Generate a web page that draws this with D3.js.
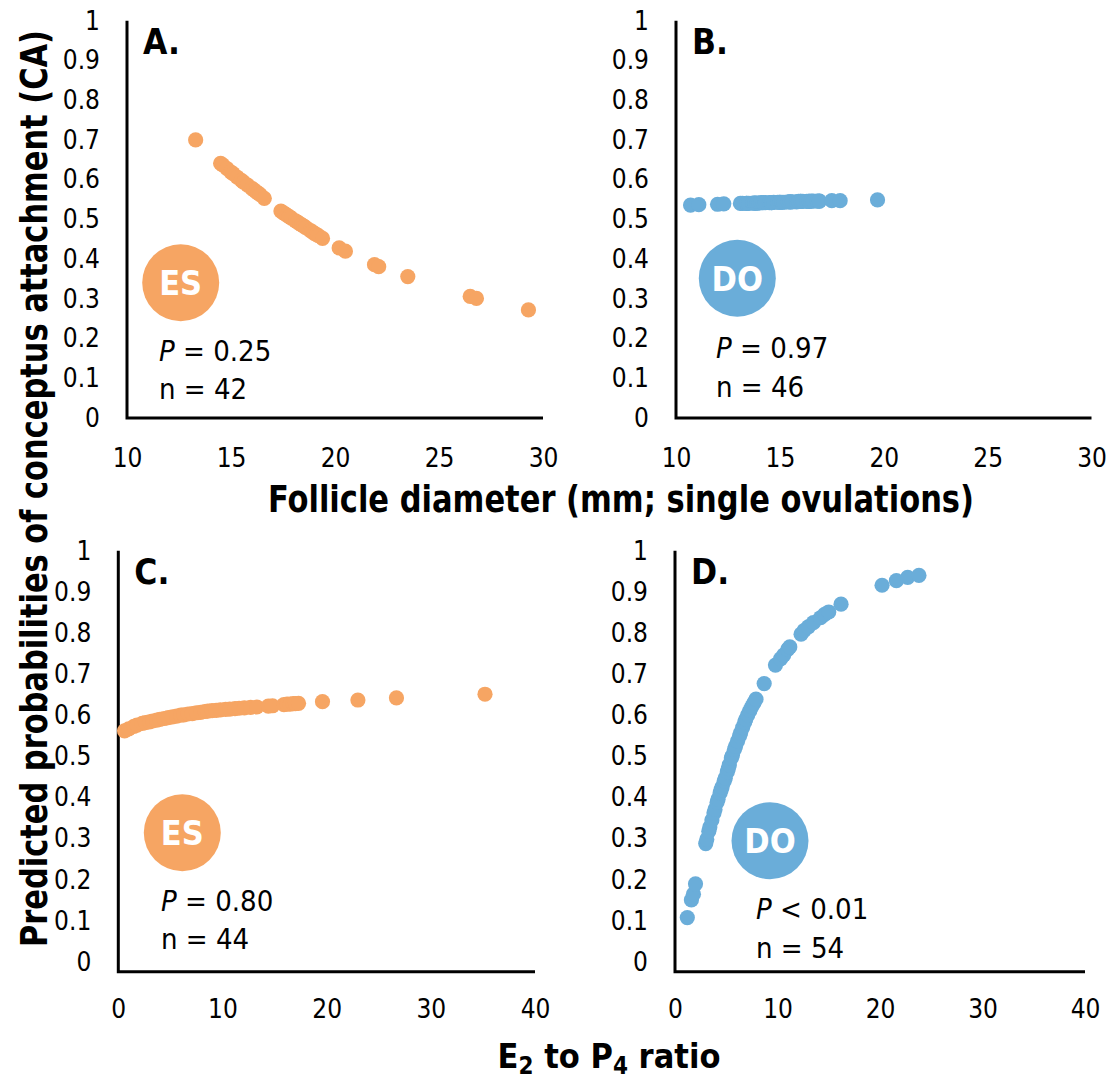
<!DOCTYPE html>
<html>
<head>
<meta charset="utf-8">
<script src="https://cdn.jsdelivr.net/npm/d3@7"></script>
<style>
  body { margin: 0; background: #fff; }
  svg { display: block; font-family: "DejaVu Sans Condensed", "DejaVu Sans", sans-serif; }
</style>
</head>
<body>
<svg id="chart"></svg>
<script>
// Values
// A. ES, follicle diameter
var esFollicleX = [13.3, 14.5, 14.6, 14.8, 15.0, 15.1, 15.3, 15.5, 15.6, 15.8, 16.0, 16.1, 16.2, 16.3, 16.4, 16.6,
  17.4, 17.5, 17.6, 17.7, 17.8, 17.9, 18.1, 18.2, 18.3, 18.4, 18.5, 18.6, 18.8, 18.9, 19.0, 19.1, 19.2, 19.4,
  20.2, 20.5, 21.9, 22.1, 23.5, 26.5, 26.8, 29.3];
var esFollicleY = [0.700, 0.641, 0.637, 0.628, 0.619, 0.615, 0.606, 0.598, 0.594, 0.586, 0.578, 0.574, 0.570, 0.566, 0.562, 0.553,
  0.521, 0.517, 0.514, 0.510, 0.507, 0.503, 0.496, 0.493, 0.489, 0.486, 0.483, 0.479, 0.472, 0.469, 0.465, 0.462, 0.459, 0.452,
  0.428, 0.420, 0.386, 0.381, 0.356, 0.306, 0.301, 0.272];

// B. DO, follicle diameter
var doFollicleX = [10.7, 11.1, 12.0, 12.3,
  13.1, 13.2, 13.4, 13.4, 13.5, 13.7, 13.8, 13.8, 13.9, 14.0, 14.1, 14.2, 14.3, 14.5, 14.6, 14.6, 14.7, 14.9, 15.0, 15.0,
  15.1, 15.2, 15.4, 15.5, 15.5, 15.6, 15.8, 15.9, 16.0, 16.0, 16.1, 16.3, 16.4, 16.4, 16.5, 16.6, 16.8, 16.9, 16.9,
  17.5, 17.9, 19.7];
var doFollicleY = [0.536, 0.537, 0.538, 0.539,
  0.540, 0.540, 0.540, 0.540, 0.540, 0.541, 0.541, 0.541, 0.541, 0.541, 0.542, 0.542, 0.542, 0.542, 0.542, 0.542, 0.543, 0.543, 0.543, 0.543,
  0.543, 0.543, 0.544, 0.544, 0.544, 0.544, 0.544, 0.545, 0.545, 0.545, 0.545, 0.545, 0.545, 0.545, 0.546, 0.546, 0.546, 0.546, 0.546,
  0.547, 0.547, 0.549];

// C. ES, E2:P4 ratio
var esRatioX = [0.6, 1.0, 1.5, 1.8, 2.3, 2.6, 3.0, 3.3, 3.7, 4.0, 4.4, 4.8, 5.2, 5.6, 6.0, 6.3, 6.7, 7.1, 7.5, 7.9,
  8.3, 8.6, 9.0, 9.4, 9.8, 10.3, 10.7, 11.2, 11.6, 12.1, 12.7, 13.3,
  14.4, 14.8, 15.9, 16.2, 16.5, 16.8, 17.0, 17.3,
  19.6, 23.0, 26.7, 35.2];
var esRatioY = [0.562, 0.567, 0.573, 0.576, 0.580, 0.582, 0.584, 0.586, 0.588, 0.590, 0.592, 0.594, 0.596, 0.598, 0.600, 0.601, 0.603, 0.604, 0.606, 0.607,
  0.609, 0.610, 0.611, 0.612, 0.613, 0.614, 0.615, 0.616, 0.617, 0.618, 0.619, 0.620,
  0.622, 0.623, 0.626, 0.627, 0.627, 0.628, 0.628, 0.629,
  0.633, 0.637, 0.642, 0.651];

// D. DO, E2:P4 ratio
var doRatioX = [1.2, 1.6, 1.8, 2.0,
  3.0, 3.1, 3.3, 3.4, 3.6, 3.8, 3.9, 4.1, 4.2, 4.4, 4.5, 4.6, 4.8, 4.9, 5.1, 5.2, 5.3, 5.5, 5.6, 5.8, 5.9,
  6.1, 6.3, 6.4, 6.6, 6.8, 6.9, 7.1, 7.3, 7.5, 7.7, 7.9,
  8.7, 9.8, 10.3, 10.6, 11.0, 11.2, 12.3, 12.6, 13.0, 13.5, 14.2, 14.6, 15.0, 16.2, 20.2, 21.6, 22.7, 23.8];
var doRatioY = [0.108, 0.151, 0.165, 0.190,
  0.288, 0.298, 0.318, 0.328, 0.345, 0.362, 0.371, 0.388, 0.396, 0.411, 0.419, 0.426, 0.440, 0.447, 0.462, 0.470, 0.479, 0.496, 0.502, 0.517, 0.524,
  0.537, 0.550, 0.557, 0.570, 0.583, 0.590, 0.601, 0.611, 0.621, 0.630, 0.639,
  0.677, 0.722, 0.737, 0.746, 0.760, 0.766, 0.797, 0.806, 0.815, 0.825, 0.837, 0.845, 0.851, 0.870, 0.916, 0.927, 0.935, 0.940];

// Tick labels
var yTicks = [0, 0.1, 0.2, 0.3, 0.4, 0.5, 0.6, 0.7, 0.8, 0.9, 1];
var follicleTicks = [10, 15, 20, 25, 30];
var ratioTicks = [0, 10, 20, 30, 40];

var orange = "#F6A563";
var blue = "#6AADD9";

var w = 1113;
var h = 1081;

var svg = d3.select("#chart")
  .attr("width", w)
  .attr("height", h);

svg.append("rect").attr("width", w).attr("height", h).attr("fill", "#fff");

// one entry per panel: where it sits and what goes in it
var panels = [
  { tag: "A.", xs: esFollicleX, ys: esFollicleY, xDomain: [10, 30], xTicks: follicleTicks, color: orange,
    left: 127, right: 543, top: 20.7, zero: 418, axisY: 418, pad: 31,
    badge: "ES", bx: 180.7, by: 282.7, p: "= 0.25", n: "n = 42", tx: 159, py: 361, ny: 399 },
  { tag: "B.", xs: doFollicleX, ys: doFollicleY, xDomain: [10, 30], xTicks: follicleTicks, color: blue,
    left: 676, right: 1091.5, top: 20.7, zero: 418, axisY: 418, pad: 31,
    badge: "DO", bx: 737.3, by: 278.3, p: "= 0.97", n: "n = 46", tx: 716, py: 358, ny: 397 },
  { tag: "C.", xs: esRatioX, ys: esRatioY, xDomain: [0, 40], xTicks: ratioTicks, color: orange,
    left: 118.3, right: 535, top: 550.7, zero: 962, axisY: 971.7, pad: 28,
    badge: "ES", bx: 182.3, by: 832.7, p: "= 0.80", n: "n = 44", tx: 161, py: 911, ny: 949 },
  { tag: "D.", xs: doRatioX, ys: doRatioY, xDomain: [0, 40], xTicks: ratioTicks, color: blue,
    left: 675, right: 1085, top: 550.7, zero: 962, axisY: 971.7, pad: 28,
    badge: "DO", bx: 770, by: 840.7, p: "< 0.01", n: "n = 54", tx: 756, py: 919, ny: 958 }
];

panels.forEach(function(pn) {
  var x = d3.scaleLinear().domain(pn.xDomain).range([pn.left, pn.right]);
  var y = d3.scaleLinear().domain([0, 1]).range([pn.zero, pn.top]);
  var g = svg.append("g");

  // Y axis labels
  var ya = g.append("g")
    .attr("transform", "translate(" + pn.left + ",0)")
    .call(d3.axisLeft(y).tickValues(yTicks).tickSize(0).tickPadding(27).tickFormat(String));
  ya.select(".domain").remove();
  ya.attr("font-size", 26).attr("font-family", null);
  ya.selectAll("text").attr("fill", "#000");

  // X axis labels
  var xa = g.append("g")
    .attr("transform", "translate(0," + pn.axisY + ")")
    .call(d3.axisBottom(x).tickValues(pn.xTicks).tickSize(0).tickPadding(pn.pad).tickFormat(String));
  xa.select(".domain").remove();
  xa.attr("font-size", 26).attr("font-family", null);
  xa.selectAll("text").attr("fill", "#000");

  // L-shaped axis lines
  g.append("path")
    .attr("d", "M" + pn.left + "," + pn.top + "V" + pn.axisY + "H" + pn.right)
    .attr("fill", "none")
    .attr("stroke", "#000")
    .attr("stroke-width", 3);

  // points
  var pts = pn.xs.map(function(v, i) { return { x: v, y: pn.ys[i] }; });
  g.selectAll("circle.pt")
    .data(pts)
    .enter()
    .append("circle")
    .attr("class", "pt")
    .attr("cx", function(d) { return x(d.x); })
    .attr("cy", function(d) { return y(d.y); })
    .attr("r", 7.6)
    .attr("fill", pn.color);

  // panel letter
  g.append("text")
    .attr("x", pn.left + 16)
    .attr("y", pn.top + 33)
    .attr("font-size", 35)
    .attr("font-weight", "bold")
    .text(pn.tag);

  // group badge
  g.append("circle")
    .attr("cx", pn.bx).attr("cy", pn.by).attr("r", 38.5)
    .attr("fill", pn.color);
  g.append("text")
    .attr("x", pn.bx).attr("y", pn.by)
    .attr("dy", "0.36em")
    .attr("text-anchor", "middle")
    .attr("font-size", 34)
    .attr("font-weight", "bold")
    .attr("fill", "#fff")
    .text(pn.badge);

  // stats
  var pt = g.append("text")
    .attr("x", pn.tx).attr("y", pn.py)
    .attr("font-size", 29);
  pt.append("tspan").attr("font-style", "italic").text("P");
  pt.append("tspan").text(" " + pn.p);
  g.append("text")
    .attr("x", pn.tx).attr("y", pn.ny)
    .attr("font-size", 29)
    .text(pn.n);
});

// axis titles
svg.append("text")
  .attr("transform", "translate(47,488.5) rotate(-90)")
  .attr("text-anchor", "middle")
  .attr("font-size", 38)
  .attr("font-weight", "bold")
  .attr("textLength", 917)
  .attr("lengthAdjust", "spacingAndGlyphs")
  .text("Predicted probabilities of conceptus attachment (CA)");

svg.append("text")
  .attr("x", 621)
  .attr("y", 512)
  .attr("text-anchor", "middle")
  .attr("font-size", 38)
  .attr("font-weight", "bold")
  .attr("textLength", 706)
  .attr("lengthAdjust", "spacingAndGlyphs")
  .text("Follicle diameter (mm; single ovulations)");

var bt = svg.append("text")
  .attr("x", 609)
  .attr("y", 1068)
  .attr("text-anchor", "middle")
  .attr("font-size", 34)
  .attr("font-weight", "bold");
bt.append("tspan").text("E");
bt.append("tspan").attr("font-size", 24).attr("dy", 6).text("2");
bt.append("tspan").attr("dy", -6).text(" to P");
bt.append("tspan").attr("font-size", 24).attr("dy", 6).text("4");
bt.append("tspan").attr("dy", -6).text(" ratio");
</script>
</body>
</html>
